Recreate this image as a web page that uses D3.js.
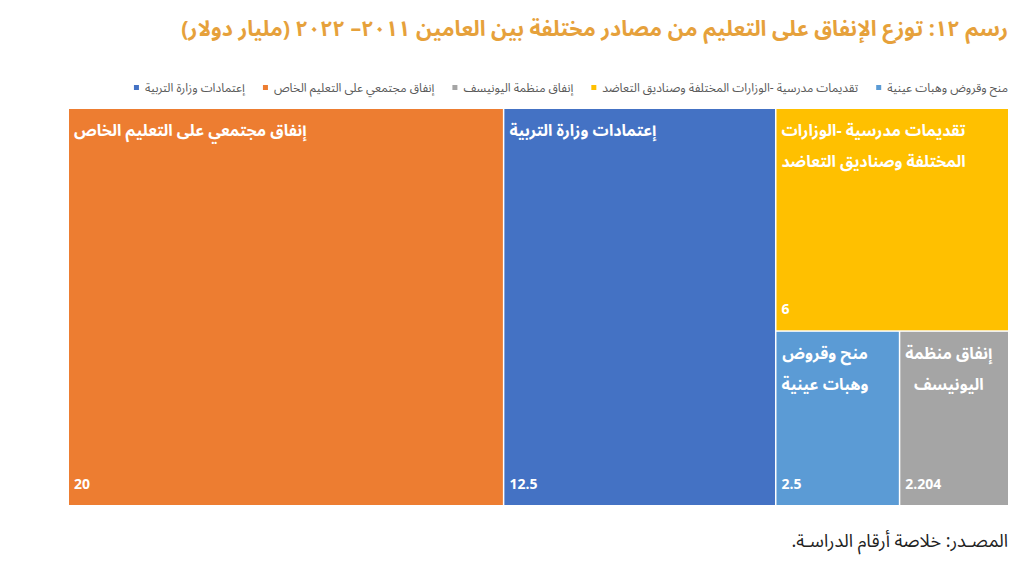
<!DOCTYPE html>
<html>
<head>
<meta charset="utf-8">
<script src="https://cdn.jsdelivr.net/npm/d3@7"></script>
<style>
  body { margin: 0; background: #fff; }
  svg { display: block; }
  text { font-family: "Noto Sans Arabic", "DejaVu Sans", sans-serif; }
</style>
</head>
<body>
<svg id="chart" width="1027" height="565"></svg>
<script>
// data
var categories = [
  "إنفاق مجتمعي على التعليم الخاص",
  "إعتمادات وزارة التربية",
  "تقديمات مدرسية -الوزارات المختلفة وصناديق التعاضد",
  "منح وقروض وهبات عينية",
  "إنفاق منظمة اليونيسف"
];
var values = [20, 12.5, 6, 2.5, 2.204];
var legendOrder = [
  "منح وقروض وهبات عينية",
  "تقديمات مدرسية -الوزارات المختلفة وصناديق التعاضد",
  "إنفاق منظمة اليونيسف",
  "إنفاق مجتمعي على التعليم الخاص",
  "إعتمادات وزارة التربية"
];
var palette = ["#ED7D31", "#4472C4", "#FFC000", "#5B9BD5", "#A5A5A5"];

var title = "رسم ١٢: توزع  الإنفاق على التعليم من مصادر مختلفة بين العامين ٢٠١١– ٢٠٢٢ (مليار دولار)";
var source = "المصـدر: خلاصة أرقام الدراسـة.";

var svg = d3.select("#chart");
// NB: "top" clashes with window.top, so prefixed names
var cLeft = 69, cTop = 109, cRight = 1008, cBottom = 505;

var color = d3.scaleOrdinal().domain(categories).range(palette);

// title
svg.append("text")
  .attr("x", cRight).attr("y", 36)
  .attr("direction", "rtl").attr("text-anchor", "start")
  .attr("font-size", 21.5).attr("font-weight", "bold")
  .attr("fill", "#E6A13B")
  .text(title);

// legend, laid out from the right
var lx = cRight;
var lg = svg.append("g").attr("class", "legend");
legendOrder.forEach(function(c) {
  var t = lg.append("text")
    .attr("x", lx).attr("y", 92)
    .attr("direction", "rtl").attr("text-anchor", "start")
    .attr("font-size", 12).attr("fill", "#595959")
    .text(c);
  var w = t.node().getComputedTextLength();
  lg.append("rect")
    .attr("x", lx - w - 11).attr("y", 85)
    .attr("width", 5).attr("height", 5)
    .attr("fill", color(c));
  lx = lx - w - 11 - 18;
});

// treemap
var root = d3.hierarchy({children: categories.map(function(c, i) { return {name: c, value: values[i]}; })})
  .sum(function(d) { return d.value || 0; })
  .sort(function(a, b) { return b.value - a.value; });

d3.treemap()
  .tile(d3.treemapSquarify.ratio(1))
  .size([cRight - cLeft, cBottom - cTop])
  .paddingInner(1.5)(root);

var cell = svg.append("g")
  .attr("transform", "translate(" + cLeft + "," + cTop + ")")
  .selectAll("g")
  .data(root.leaves())
  .join("g")
  .attr("transform", function(d) { return "translate(" + d.x0 + "," + d.y0 + ")"; });

cell.append("rect")
  .attr("width", function(d) { return d.x1 - d.x0; })
  .attr("height", function(d) { return d.y1 - d.y0; })
  .attr("fill", function(d) { return color(d.data.name); });

cell.each(function(d) {
  var g = d3.select(this);
  var maxW = d.x1 - d.x0 - 10;
  var words = d.data.name.split(" ");
  var lines = [], line = [];
  var probe = g.append("text").attr("font-size", 16).attr("font-weight", "bold").attr("direction", "rtl");
  words.forEach(function(w) {
    probe.text(line.concat([w]).join(" "));
    if (probe.node().getComputedTextLength() > maxW && line.length) {
      lines.push(line.join(" "));
      line = [w];
    } else {
      line.push(w);
    }
  });
  lines.push(line.join(" "));
  var widths = lines.map(function(l) { probe.text(l); return probe.node().getComputedTextLength(); });
  probe.remove();
  var blockW = d3.max(widths);

  lines.forEach(function(l, i) {
    g.append("text")
      .attr("x", 5 + blockW / 2)
      .attr("y", 27 + i * 31)
      .attr("direction", "rtl").attr("text-anchor", "middle")
      .attr("font-size", 16).attr("font-weight", "bold")
      .attr("fill", "#fff")
      .text(l);
  });

  g.append("text")
    .attr("x", 5)
    .attr("y", d.y1 - d.y0 - 16)
    .attr("font-size", 14).attr("font-weight", "bold")
    .attr("fill", "#fff")
    .text(String(d.data.value));
});

// source note
svg.append("text")
  .attr("x", cRight).attr("y", 547)
  .attr("direction", "rtl").attr("text-anchor", "start")
  .attr("font-size", 18).attr("fill", "#222")
  .text(source);
</script>
</body>
</html>
